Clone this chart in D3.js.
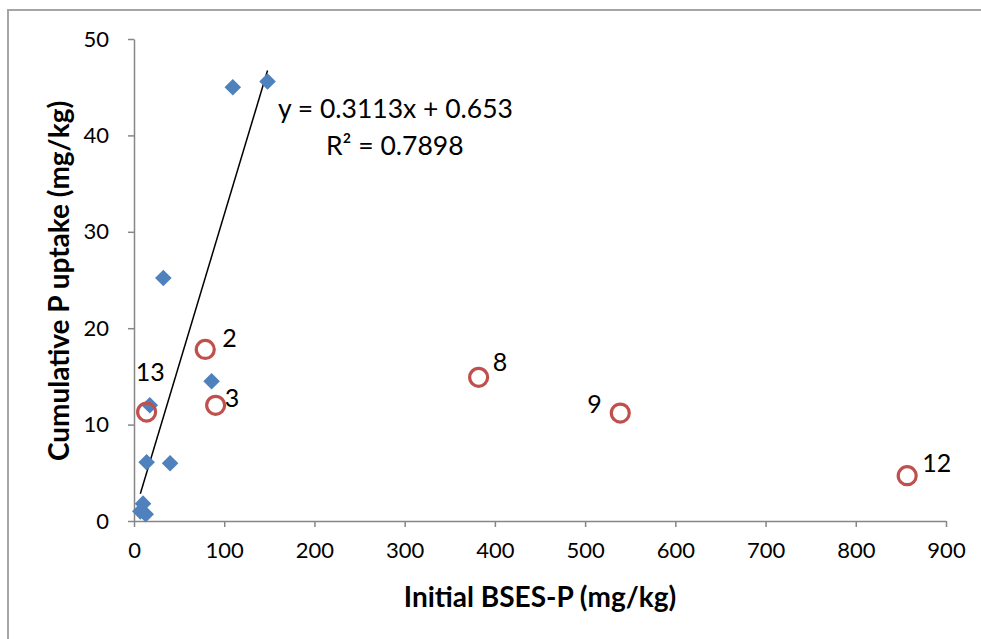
<!DOCTYPE html>
<html>
<head>
<meta charset="utf-8">
<script src="https://cdn.jsdelivr.net/npm/d3@7"></script>
<style>
	body { margin: 0; background: #fff; }
	svg { display: block; font-family: Lato, "Noto Sans", sans-serif; }
</style>
</head>
<body>
<div id="chart"></div>
<script>
// data
// ----------------------------------------
var blue_x = [7, 10, 13, 14, 40, 17.5, 86, 32.5, 109.5, 148];
var blue_y = [1.0, 1.8, 0.7, 6.1, 6.0, 12.0, 14.5, 25.2, 45.0, 45.6];

var red_labels = ["13", "3", "2", "8", "9", "12"];
var red_x = [14, 90.5, 79, 382, 539, 857];
var red_y = [11.3, 12.0, 17.8, 14.9, 11.2, 4.7];

var x_ticks = [0, 100, 200, 300, 400, 500, 600, 700, 800, 900];
var y_ticks = [0, 10, 20, 30, 40, 50];

var slope = 0.3113, intercept = 0.653, r2 = 0.7898;

// main variables
// ----------------------------------------
var width = 981, height = 639;
var margin = {top: 39, right: 35, bottom: 118, left: 134};

// where each point label sits relative to its marker
var label_offset = {
	"13": [-11, -31], "3": [9, 2], "2": [17, -2],
	"8": [14, -6], "9": [-33, 0], "12": [15, -4]
};

var svg = d3.select("#chart")
	.append("svg")
	.attr("width", width)
	.attr("height", height);

// chart area border
svg.append("rect")
	.attr("x", 8).attr("y", 10)
	.attr("width", width + 20).attr("height", height + 20)
	.attr("fill", "none")
	.attr("stroke", "#a5a5a5")
	.attr("stroke-width", 2);

var x = d3.scaleLinear()
	.domain([0, 900])
	.range([margin.left, width - margin.right]);

var y = d3.scaleLinear()
	.domain([0, 50])
	.range([height - margin.bottom, margin.top]);

// axes
var xAxis = svg.append("g")
	.attr("transform", "translate(0," + y(0) + ")")
	.call(d3.axisBottom(x).tickValues(x_ticks).tickSize(6).tickSizeOuter(0).tickPadding(15));

var yAxis = svg.append("g")
	.attr("transform", "translate(" + x(0) + ",0)")
	.call(d3.axisLeft(y).tickValues(y_ticks).tickSize(6).tickSizeOuter(0).tickPadding(19));

[xAxis, yAxis].forEach(function(a){
	a.select(".domain").attr("stroke", "#868686").attr("stroke-width", 1.5);
	a.selectAll(".tick line").attr("stroke", "#868686").attr("stroke-width", 1.5);
	a.selectAll(".tick text")
		.attr("font-family", "Lato, sans-serif")
		.attr("font-size", 22)
		.attr("fill", "#000");
});

// trendline over the blue series
var xmin = d3.min(blue_x), xmax = d3.max(blue_x);
svg.append("line")
	.attr("x1", x(xmin)).attr("y1", y(slope * xmin + intercept))
	.attr("x2", x(xmax)).attr("y2", y(slope * xmax + intercept))
	.attr("stroke", "#000")
	.attr("stroke-width", 1.5);

// blue diamonds
var diamond = d3.symbol().type(d3.symbolDiamond2).size(175);
svg.append("g").selectAll("path")
	.data(d3.range(blue_x.length))
	.enter().append("path")
	.attr("d", diamond)
	.attr("transform", function(i){ return "translate(" + x(blue_x[i]) + "," + y(blue_y[i]) + ")"; })
	.attr("fill", "#4f81bd");

// red circles
var reds = svg.append("g").selectAll("g")
	.data(d3.range(red_x.length))
	.enter().append("g");

reds.append("circle")
	.attr("cx", function(i){ return x(red_x[i]); })
	.attr("cy", function(i){ return y(red_y[i]); })
	.attr("r", 9)
	.attr("fill", "none")
	.attr("stroke", "#c0504d")
	.attr("stroke-width", 3.2);

reds.append("text")
	.attr("x", function(i){ return x(red_x[i]) + label_offset[red_labels[i]][0]; })
	.attr("y", function(i){ return y(red_y[i]) + label_offset[red_labels[i]][1]; })
	.attr("font-size", 25)
	.text(function(i){ return red_labels[i]; });

// equation
svg.append("text")
	.attr("x", 278).attr("y", 118)
	.attr("font-size", 26.5)
	.text("y = " + slope + "x + " + intercept);

svg.append("text")
	.attr("x", 326).attr("y", 155)
	.attr("font-size", 26.5)
	.text("R\u00b2 = " + r2);

// axis titles
svg.append("text")
	.attr("x", 540).attr("y", 607)
	.attr("text-anchor", "middle")
	.attr("font-size", 28)
	.attr("font-weight", "bold")
	.text("Initial BSES-P (mg/kg)");

svg.append("text")
	.attr("transform", "translate(69,281) rotate(-90)")
	.attr("text-anchor", "middle")
	.attr("font-size", 28)
	.attr("font-weight", "bold")
	.text("Cumulative P uptake (mg/kg)");
</script>
</body>
</html>
